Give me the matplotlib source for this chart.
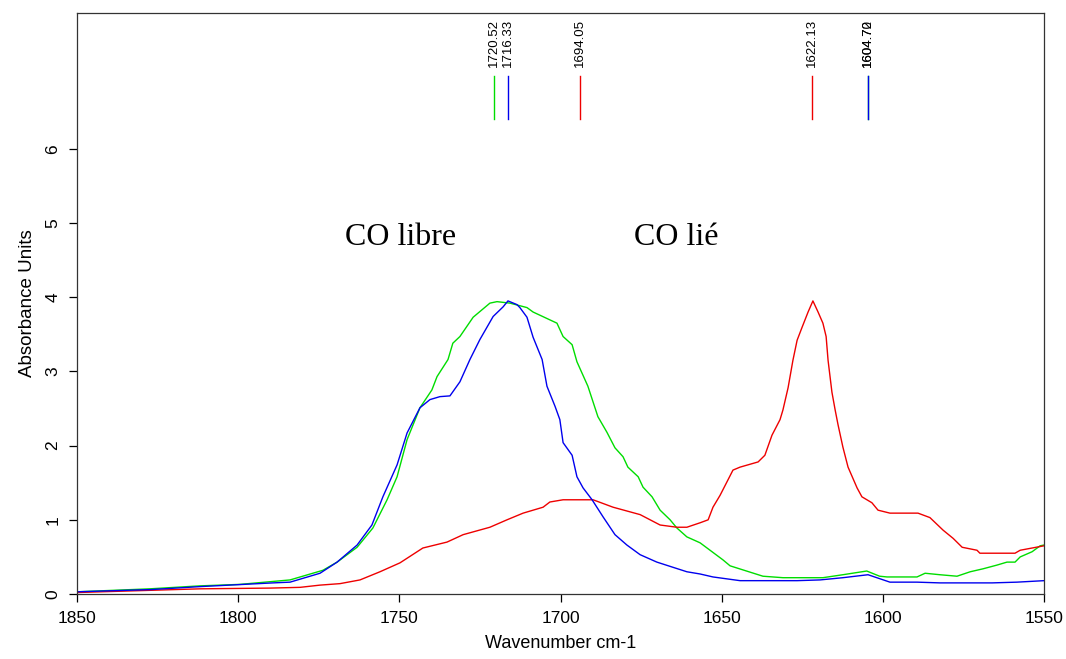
import matplotlib
matplotlib.use("Agg")
import matplotlib.pyplot as plt

plt.rcParams['font.family'] = ['Liberation Sans', 'DejaVu Sans']

# spectra (wavenumber, absorbance)
green_x = [1850, 1827.4, 1811.8, 1799.4, 1783.9, 1773.7, 1769.3, 1763.1, 1758.2, 1753.8,
           1750.7, 1747.6, 1743.6, 1739.9, 1738.3, 1734.9, 1733.4, 1731.2, 1727.1, 1721.9,
           1719.7, 1715.7, 1710.4, 1708.5, 1701.1, 1699.2, 1696.4, 1694.9, 1691.5, 1688.4,
           1685.6, 1683.1, 1680.6, 1679.1, 1675.9, 1674.4, 1671.6, 1669.1, 1666.0, 1663.9,
           1660.8, 1656.7, 1649.6, 1647.4, 1637.2, 1631.0, 1618.6, 1612.4, 1605.0, 1601.0,
           1598.7, 1592.5, 1589.4, 1586.9, 1582.3, 1577.0, 1572.9, 1568.9, 1564.6, 1561.5,
           1559.0, 1557.4, 1553.7, 1551.2, 1550.0]
green_y = [0.03, 0.07, 0.11, 0.13, 0.19, 0.32, 0.43, 0.63, 0.89, 1.27,
           1.58, 2.08, 2.51, 2.75, 2.93, 3.16, 3.38, 3.47, 3.73, 3.92,
           3.94, 3.92, 3.86, 3.80, 3.65, 3.47, 3.36, 3.13, 2.80, 2.39,
           2.18, 1.97, 1.85, 1.71, 1.58, 1.44, 1.31, 1.13, 1.00, 0.89,
           0.77, 0.69, 0.46, 0.38, 0.24, 0.22, 0.22, 0.26, 0.31, 0.24,
           0.23, 0.23, 0.23, 0.28, 0.26, 0.24, 0.30, 0.34, 0.39, 0.43,
           0.43, 0.50, 0.57, 0.65, 0.66]

blue_x = [1850, 1827.0, 1811.8, 1789.2, 1783.9, 1774.6, 1769.3, 1763.1, 1758.5, 1755.1,
          1750.7, 1747.6, 1743.6, 1740.5, 1737.4, 1734.3, 1731.2, 1728.1, 1725.0, 1720.9,
          1717.8, 1716.3, 1713.5, 1712.6, 1710.4, 1708.5, 1705.7, 1704.2, 1701.7, 1700.2,
          1699.2, 1696.4, 1694.9, 1693.0, 1690.2, 1686.8, 1683.1, 1679.4, 1675.3, 1670.1,
          1665.1, 1660.8, 1656.7, 1652.7, 1644.3, 1626.6, 1619.5, 1612.4, 1604.6, 1597.8,
          1589.4, 1582.3, 1566.1, 1558.4, 1550.0]
blue_y = [0.03, 0.06, 0.10, 0.15, 0.16, 0.28, 0.43, 0.66, 0.93, 1.31,
          1.74, 2.17, 2.51, 2.62, 2.66, 2.67, 2.86, 3.16, 3.43, 3.74,
          3.87, 3.95, 3.90, 3.86, 3.73, 3.46, 3.16, 2.80, 2.53, 2.35,
          2.04, 1.87, 1.58, 1.43, 1.27, 1.04, 0.80, 0.66, 0.53, 0.43,
          0.36, 0.30, 0.27, 0.23, 0.18, 0.18, 0.19, 0.22, 0.26, 0.16,
          0.16, 0.15, 0.15, 0.16, 0.18]

red_x = [1850, 1811.8, 1790.0, 1780.8, 1774.6, 1768.4, 1762.2, 1756.0, 1749.8, 1742.7,
         1735.2, 1730.2, 1721.9, 1716.6, 1711.6, 1705.4, 1703.3, 1699.2, 1689.9, 1683.7,
         1675.3, 1669.1, 1663.9, 1660.8, 1656.7, 1654.2, 1652.7, 1650.5, 1646.5, 1644.3,
         1638.7, 1636.6, 1634.4, 1631.9, 1631.0, 1629.4, 1627.9, 1626.6, 1625.1, 1623.2,
         1621.7, 1620.1, 1618.6, 1617.6, 1617.0, 1615.8, 1614.8, 1613.9, 1612.4, 1610.8,
         1608.0, 1606.5, 1603.4, 1601.5, 1597.8, 1589.1, 1585.4, 1581.3, 1578.2, 1575.4,
         1570.8, 1569.9, 1559.0, 1557.4, 1553.7, 1550.0]
red_y = [0.02, 0.07, 0.08, 0.09, 0.12, 0.14, 0.19, 0.30, 0.42, 0.62,
         0.70, 0.80, 0.90, 1.00, 1.09, 1.17, 1.24, 1.27, 1.27, 1.17,
         1.07, 0.93, 0.90, 0.90, 0.96, 1.00, 1.17, 1.33, 1.67, 1.71,
         1.78, 1.87, 2.14, 2.35, 2.48, 2.78, 3.15, 3.42, 3.59, 3.80,
         3.95, 3.80, 3.65, 3.47, 3.15, 2.72, 2.48, 2.28, 1.98, 1.71,
         1.43, 1.31, 1.23, 1.13, 1.09, 1.09, 1.03, 0.86, 0.75, 0.63,
         0.59, 0.55, 0.55, 0.59, 0.62, 0.65]

# peak picks
peak_pos = [1720.52, 1716.33, 1694.05, 1622.13, 1604.72, 1604.70]
peak_lbl = ["1720.52", "1716.33", "1694.05", "1622.13", "1604.72", "1604.70"]
peak_col = ["#00dd00", "#0000ee", "#ee0000", "#ee0000", "#00dd00", "#0000ee"]

GREEN, BLUE, RED = "#00dd00", "#0000ee", "#ee0000"

fig = plt.figure(figsize=(10.66, 6.59), dpi=100)
ax = fig.add_axes([0.0722, 0.0986, 0.9072, 0.8817])

ax.plot(green_x, green_y, color=GREEN, lw=1.0)
ax.plot(red_x, red_y, color=RED, lw=1.0)
ax.plot(blue_x, blue_y, color=BLUE, lw=1.0)

for p, l, c in zip(peak_pos, peak_lbl, peak_col):
    ax.plot([p, p], [6.40, 6.98], color=c, lw=1.0)
    ax.text(p, 7.10, l, rotation=90, ha='center', va='bottom', fontsize=9.5)

ax.text(1749.5, 4.71, "CO libre", family=['Liberation Serif', 'DejaVu Serif'],
        fontsize=23, ha='center', va='baseline')
ax.text(1664.2, 4.71, "CO lié", family=['Liberation Serif', 'DejaVu Serif'],
        fontsize=23, ha='center', va='baseline')

ax.set_xlim(1850, 1550)
ax.set_ylim(0, 7.83)
ax.set_xticks([1850, 1800, 1750, 1700, 1650, 1600, 1550])
ax.set_yticks(range(0, 7))
ax.tick_params(direction='out', length=6, width=0.9, labelsize=12.5, pad=6)
for t in ax.get_yticklabels():
    t.set_rotation(90)
    t.set_va('center')
for s in ax.spines.values():
    s.set_color('#333333')
    s.set_linewidth(0.9)

ax.set_xlabel("Wavenumber cm-1", fontsize=13, labelpad=7)
ax.set_ylabel("Absorbance Units", fontsize=13.5, labelpad=7)

fig.savefig("out.png", dpi=100)
